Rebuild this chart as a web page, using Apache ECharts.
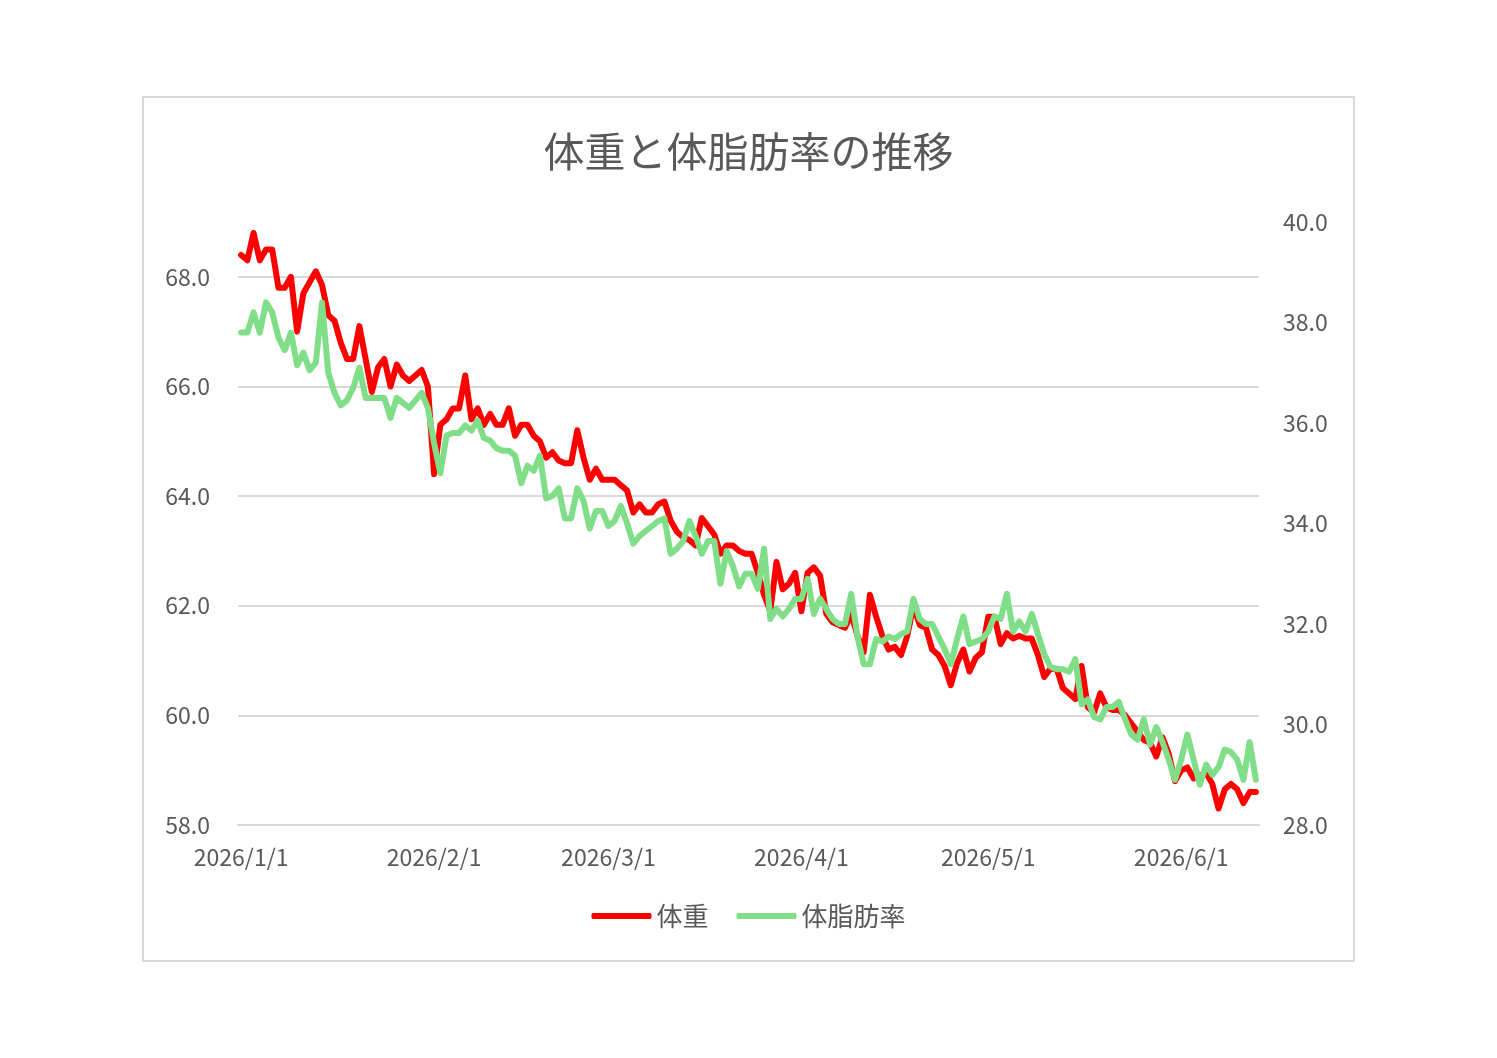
<!DOCTYPE html>
<html>
<head>
<meta charset="utf-8">
<script src="https://cdn.jsdelivr.net/npm/echarts@6/dist/echarts.min.js"></script>
<style>
  html, body { margin: 0; background: #fff; }
  #chart { width: 1497px; height: 1058px; }
</style>
</head>
<body>
<div id="chart"></div>
<script>
// daily readings, 2026/1/1 .. 2026/6/13
const firstDay = [2026, 1, 1]
const weight = [
  68.4, 68.3, 68.8, 68.3, 68.5, 68.5, 67.8, 67.8, 68.0, 67.0,
  67.7, 67.9, 68.1, 67.85, 67.3, 67.2, 66.8, 66.5, 66.5, 67.1,
  66.5, 65.9, 66.35, 66.5, 66.0, 66.4, 66.2, 66.1, 66.2, 66.3,
  66.0, 64.4, 65.3, 65.4, 65.6, 65.6, 66.2, 65.4, 65.6, 65.3,
  65.5, 65.3, 65.3, 65.6, 65.1, 65.3, 65.3, 65.1, 65.0, 64.7,
  64.8, 64.65, 64.6, 64.6, 65.2, 64.7, 64.3, 64.5, 64.3, 64.3,
  64.3, 64.2, 64.1, 63.7, 63.85, 63.7, 63.7, 63.85, 63.9, 63.55,
  63.35, 63.25, 63.2, 63.1, 63.6, 63.45, 63.3, 62.95, 63.1, 63.1,
  63.0, 62.95, 62.95, 62.6, 62.2, 61.9, 62.8, 62.3, 62.4, 62.6,
  61.9, 62.6, 62.7, 62.55, 61.85, 61.7, 61.65, 61.6, 61.85, 61.45,
  61.15, 62.2, 61.8, 61.45, 61.2, 61.25, 61.1, 61.45, 62.0, 61.65,
  61.6, 61.2, 61.1, 60.9, 60.55, 60.95, 61.2, 60.8, 61.05, 61.15,
  61.8, 61.8, 61.3, 61.5, 61.4, 61.45, 61.4, 61.4, 61.1, 60.7,
  60.85, 60.85, 60.5, 60.4, 60.3, 60.9, 60.15, 60.05, 60.4, 60.15,
  60.1, 60.1, 60.0, 59.85, 59.7, 59.55, 59.5, 59.25, 59.6, 59.3,
  58.8, 59.0, 59.05, 58.85, 58.9, 58.95, 58.75, 58.3, 58.65, 58.75,
  58.65, 58.4, 58.6, 58.6
]
const bodyFat = [
  37.8, 37.8, 38.2, 37.8, 38.4, 38.2, 37.7, 37.45, 37.8, 37.15,
  37.4, 37.05, 37.2, 38.4, 37.0, 36.6, 36.35, 36.45, 36.7, 37.1,
  36.5, 36.5, 36.5, 36.5, 36.1, 36.5, 36.4, 36.3, 36.45, 36.6,
  36.3, 35.6, 35.0, 35.75, 35.8, 35.8, 35.95, 35.85, 36.05, 35.7,
  35.65, 35.5, 35.45, 35.45, 35.35, 34.8, 35.15, 35.05, 35.35, 34.5,
  34.55, 34.7, 34.1, 34.1, 34.7, 34.45, 33.9, 34.25, 34.25, 33.95,
  34.05, 34.35, 34.0, 33.6, 33.75, 33.85, 33.95, 34.05, 34.1, 33.4,
  33.5, 33.65, 34.05, 33.75, 33.4, 33.65, 33.65, 32.8, 33.45, 33.15,
  32.75, 33.0, 33.0, 32.7, 33.5, 32.1, 32.3, 32.15, 32.3, 32.5,
  32.5, 32.9, 32.2, 32.5, 32.3, 32.1, 32.0, 32.0, 32.6, 31.75,
  31.2, 31.2, 31.7, 31.65, 31.75, 31.7, 31.8, 31.85, 32.5, 32.1,
  32.0, 32.0, 31.75, 31.5, 31.2, 31.7, 32.15, 31.6, 31.65, 31.7,
  31.85, 32.15, 32.1, 32.6, 31.85, 32.05, 31.85, 32.2, 31.8, 31.4,
  31.15, 31.1, 31.1, 31.05, 31.3, 30.4, 30.5, 30.15, 30.1, 30.35,
  30.35, 30.45, 30.1, 29.8, 29.7, 30.1, 29.6, 29.95, 29.65, 29.3,
  28.9, 29.3, 29.8, 29.3, 28.8, 29.2, 29.0, 29.15, 29.5, 29.45,
  29.3, 28.9, 29.65, 28.9
]
const seriesNames = ['体重', '体脂肪率']
const title = '体重と体脂肪率の推移'

const days = weight.map((_, i) => {
  const d = new Date(Date.UTC(firstDay[0], firstDay[1] - 1, firstDay[2] + i))
  return `${d.getUTCFullYear()}/${d.getUTCMonth() + 1}/${d.getUTCDate()}`
})
const isMonthStart = (index, value) => value.endsWith('/1')

const font = '"Noto Sans CJK JP", "Noto Sans", sans-serif'
const textColor = '#595959'
const gridColor = '#d9d9d9'
const red = '#ff0000'
const green = '#80dd88'

const chart = echarts.init(document.getElementById('chart'))
chart.setOption({
  animation: false,
  backgroundColor: '#fff',
  textStyle: { fontFamily: font },
  title: {
    text: title,
    left: 'center',
    top: 126,
    textStyle: { fontFamily: font, fontSize: 41, fontWeight: 'normal', color: textColor }
  },
  graphic: [{
    type: 'rect',
    shape: { x: 143, y: 97, width: 1211, height: 864 },
    style: { fill: 'none', stroke: gridColor, lineWidth: 2 },
    silent: true
  }],
  legend: {
    data: seriesNames,
    bottom: 124,
    left: 'center',
    icon: 'roundRect',
    itemWidth: 60,
    itemHeight: 6,
    itemGap: 28,
    textStyle: { fontFamily: font, fontSize: 26, color: textColor }
  },
  grid: { left: 238, right: 238, top: 222, bottom: 233 },
  xAxis: {
    type: 'category',
    data: days,
    boundaryGap: true,
    axisLine: { lineStyle: { color: gridColor, width: 2 } },
    axisTick: { interval: isMonthStart, length: 8, lineStyle: { color: gridColor, width: 2 } },
    axisLabel: { interval: isMonthStart, margin: 21, fontSize: 23, color: textColor, fontFamily: font },
    splitLine: { show: false }
  },
  yAxis: [
    {
      type: 'value',
      min: 58, max: 69, interval: 2,
      axisLine: { show: false },
      axisTick: { show: false },
      axisLabel: {
        margin: 28, fontSize: 23, color: textColor, fontFamily: font,
        showMaxLabel: false,
        formatter: v => v.toFixed(1)
      },
      splitLine: {
        lineStyle: {
          color: [gridColor, gridColor, gridColor, gridColor, gridColor, gridColor, 'rgba(0,0,0,0)'],
          width: 2
        }
      }
    },
    {
      type: 'value',
      min: 28, max: 40, interval: 2,
      axisLine: { show: false },
      axisTick: { show: false },
      axisLabel: { margin: 24, fontSize: 23, color: textColor, fontFamily: font, formatter: v => v.toFixed(1) },
      splitLine: { show: false }
    }
  ],
  series: [
    {
      name: seriesNames[0],
      type: 'line',
      data: weight,
      yAxisIndex: 0,
      symbol: 'none',
      color: red,
      lineStyle: { width: 6, color: red, cap: 'round', join: 'round' }
    },
    {
      name: seriesNames[1],
      type: 'line',
      data: bodyFat,
      yAxisIndex: 1,
      symbol: 'none',
      color: green,
      lineStyle: { width: 6, color: green, cap: 'round', join: 'round' }
    }
  ]
})
</script>
</body>
</html>
